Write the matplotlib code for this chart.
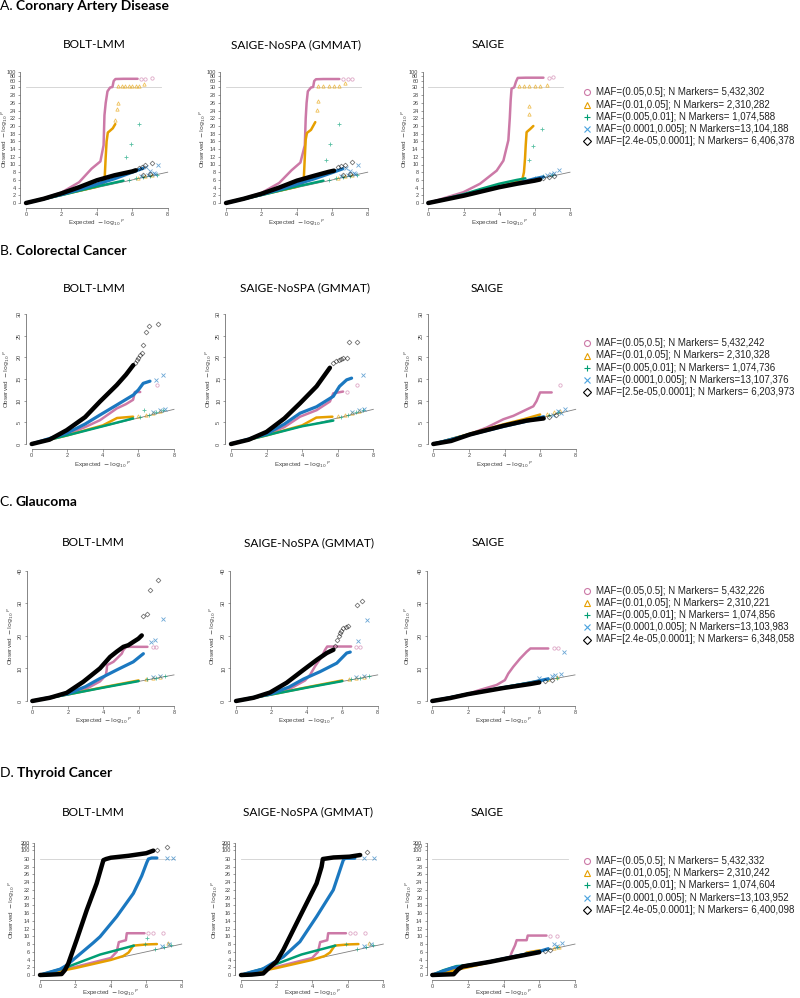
import numpy as np
import matplotlib
matplotlib.use("Agg")
import matplotlib.pyplot as plt
from matplotlib.lines import Line2D
from matplotlib.text import Annotation

# ---------------- data (expected -log10P, observed -log10P) ----------------
# each series: (curve_x, curve_y, tail_x, tail_y)
ROW_TITLES = [("A.", "Coronary Artery Disease"), ("B.", "Colorectal Cancer"),
              ("C.", "Glaucoma"), ("D.", "Thyroid Cancer")]
METHODS = ["BOLT-LMM", "SAIGE-NoSPA (GMMAT)", "SAIGE"]

CAD_BOLT = {
    "pink": ([0, 1.0, 2.0, 3.0, 3.7, 4.2, 4.38, 4.43, 4.5, 4.6, 4.75, 4.88, 4.95, 5.05, 5.5, 6.0, 6.3],
             [0, 1.2, 2.7, 5.4, 8.9, 10.8, 15, 22.8, 26, 29, 30, 32, 58, 67, 68, 68, 68],
             [6.5, 6.7, 7.1], [68, 68, 70]),
    "orange": ([0, 2, 4, 4.4, 4.45, 4.5, 4.55, 4.62, 4.7, 4.9, 5.04],
               [0, 2.1, 4.2, 5.2, 7.2, 12, 16, 18.3, 18.6, 19.4, 20.5],
               [5.04, 5.13, 5.17, 5.2, 5.4, 5.6, 5.8, 6.0, 6.2, 6.4, 6.64, 6.3, 6.7, 7.1],
               [21.5, 24.5, 26.1, 36, 36, 37, 37, 37, 37, 38, 45, 6.6, 7.0, 7.3]),
    "green": ([0, 2, 4, 5, 5.5], [0, 2.05, 4.3, 5.3, 5.8],
              [5.66, 5.9, 6.4, 5.8, 6.2, 6.6, 7.0, 7.4], [12.0, 15.3, 20.5, 6.0, 6.4, 6.8, 7.1, 7.4]),
    "blue": ([0, 2, 3, 4, 5, 6, 6.6], [0, 2.2, 3.5, 4.9, 6.3, 8.0, 9.0],
             [6.8, 7.0, 7.2, 7.45, 6.5, 6.9, 7.3], [9.3, 8.2, 7.8, 9.8, 7.0, 7.4, 7.6]),
    "black": ([0, 1, 2, 3, 4, 5, 6, 6.2], [0, 1.1, 2.5, 4.1, 5.9, 7.2, 8.2, 8.5],
              [6.4, 6.55, 6.7, 7.1, 6.6, 7.0], [9.2, 9.4, 9.8, 10.4, 7.3, 7.6]),
}
CAD_GMMAT = {
    "pink": ([0, 1, 2, 3, 3.7, 4.2, 4.45, 4.5, 4.55, 4.62, 4.8, 4.92, 4.98, 5.08, 5.5, 6.0, 6.4],
             [0, 1.2, 2.6, 5.2, 8.5, 10.5, 15, 22, 26, 29, 30, 32, 58, 66, 67, 67, 67],
             [6.6, 6.9, 7.1], [67, 67, 67]),
    "orange": ([0, 2, 4, 4.35, 4.4, 4.45, 4.5, 4.57, 4.8, 5.04],
               [0, 2.1, 4.2, 5.1, 7, 12, 16.5, 18.2, 19, 21],
               [5.13, 5.17, 5.2, 5.5, 5.8, 6.1, 6.4, 6.7, 6.3, 6.7, 7.1],
               [24.1, 26.5, 36, 37, 37, 37, 38, 48, 6.6, 7.0, 7.3]),
    "green": ([0, 2, 4, 5, 5.5], [0, 2.05, 4.3, 5.3, 5.8],
              [5.66, 5.89, 6.4, 5.8, 6.2, 6.6, 7.0, 7.4], [11.2, 15.3, 20.5, 6.0, 6.4, 6.8, 7.1, 7.4]),
    "blue": ([0, 2, 3, 4, 5, 6, 6.6], [0, 2.2, 3.5, 4.9, 6.3, 7.9, 8.9],
             [6.8, 7.0, 7.2, 7.45, 6.5, 6.9, 7.3], [9.2, 8.2, 7.8, 9.8, 7.0, 7.4, 7.6]),
    "black": ([0, 1, 2, 3, 4, 5, 5.8, 6.1], [0, 1.1, 2.4, 4.0, 5.8, 7.1, 8.1, 8.4],
              [6.3, 6.5, 6.7, 7.1, 6.6, 7.0], [9.3, 9.5, 9.8, 10.6, 7.3, 7.6]),
}
CAD_SAIGE = {
    "pink": ([0, 1.98, 2.92, 3.86, 4.24, 4.52, 4.6, 4.65, 4.7, 4.85, 4.95, 5.05, 5.5, 6.0, 6.5],
             [0, 2.8, 5.0, 8.4, 11, 16.3, 22, 26.7, 29.7, 30.5, 55, 72, 73, 73, 73],
             [6.8, 7.06], [73, 74]),
    "orange": ([0, 2, 4, 5.0, 5.3, 5.4, 5.46, 5.5, 5.55, 5.75, 5.93],
               [0, 2.1, 4.3, 5.5, 5.9, 8, 11.5, 15, 18.4, 19.2, 20],
               [5.7, 5.7, 5.1, 5.4, 5.7, 6.0, 6.3, 6.7], [23, 25.3, 36, 36, 36, 37, 37, 42]),
    "green": ([0, 2, 3, 4, 5, 5.48], [0, 2.3, 3.7, 5.0, 6.0, 6.4],
              [5.67, 5.9, 6.4, 6.0, 6.5, 7.0], [11.1, 14.7, 19.3, 6.6, 7.0, 7.4]),
    "blue": ([0, 2, 4, 5, 6, 6.5], [0, 2.0, 4.2, 5.1, 6.3, 6.8],
             [6.9, 7.1, 7.4, 6.7], [7.5, 7.9, 8.6, 7.2]),
    "black": ([0, 2, 3, 4, 5, 6, 6.3], [0, 1.9, 3.0, 4.1, 5.0, 5.8, 6.1],
              [6.5, 6.8, 7.1], [6.4, 6.7, 7.1]),
}
CRC_BOLT = {
    "pink": ([0, 2, 3, 3.84, 4.78, 5.3, 5.7, 5.8, 6.1], [0, 2.3, 3.9, 5.5, 8.2, 9.2, 10.2, 12, 12],
             [7.06], [13.6]),
    "orange": ([0, 2, 4, 4.8, 5.7], [0, 2, 4.3, 6.0, 6.3],
               [6.0, 6.4, 6.8, 7.2], [6.5, 6.8, 7.2, 7.6]),
    "green": ([0, 2, 4, 5.7], [0, 2, 4.1, 5.9],
              [6.3, 6.1, 6.6, 7.0, 7.4], [7.8, 6.3, 6.8, 7.3, 7.9]),
    "blue": ([0, 1.97, 3.0, 3.84, 4.78, 5.71, 6.0, 6.27, 6.65], [0, 2.5, 4.6, 6.7, 9.0, 11.3, 12.5, 14.0, 14.5],
             [7.0, 7.4, 6.8, 7.2, 7.5], [14.8, 15.9, 7.4, 7.8, 8.1]),
    "black": ([0, 1, 1.97, 3.0, 3.84, 4.78, 5.3, 5.71], [0, 1.0, 3.2, 6.2, 9.8, 13.6, 16, 18.2],
              [5.8, 5.9, 6.0, 6.1, 6.2, 6.27, 6.4, 6.6, 7.08], [18.6, 19.4, 19.8, 20.5, 21, 22.8, 25.8, 27.3, 27.8]),
}
CRC_GMMAT = {
    "pink": ([0, 2, 3, 3.88, 4.81, 5.56, 5.75, 6.3], [0, 2.2, 3.9, 6.3, 7.8, 9.8, 11.7, 12.1],
             [6.5, 7.06], [12.1, 13.6]),
    "orange": ([0, 2, 4, 4.8, 5.7], [0, 2, 4.3, 6.1, 6.3],
               [6.0, 6.4, 6.8, 7.2], [6.5, 6.8, 7.2, 7.6]),
    "green": ([0, 2, 4, 5.75], [0, 2, 4.1, 5.4],
              [6.2, 6.6, 7.0, 7.4], [6.3, 6.8, 7.3, 7.9]),
    "blue": ([0, 2, 3.0, 3.88, 4.81, 5.75, 6.1, 6.5, 6.78], [0, 2.3, 4.6, 7.1, 8.6, 11, 13.3, 14.8, 15.2],
             [7.43, 6.8, 7.2, 7.5], [16, 7.4, 7.8, 8.1]),
    "black": ([0, 1, 2.0, 3.0, 3.88, 4.81, 5.56], [0, 1.0, 2.8, 5.9, 9.4, 13.3, 17.6],
              [5.75, 5.9, 6.05, 6.2, 6.3, 6.5, 6.63, 7.1], [18.7, 19.1, 19.4, 19.7, 19.9, 19.9, 23.6, 23.6]),
}
CRC_SAIGE = {
    "pink": ([0, 2.06, 3.0, 3.93, 4.5, 5.06, 5.62, 5.8, 6.0, 6.65], [0, 2.3, 3.8, 5.7, 6.5, 7.6, 8.7, 9.9, 11.9, 11.9],
             [7.1], [13.7]),
    "orange": ([0, 2, 4, 5.06, 6.0], [0, 2.3, 4.6, 5.7, 6.8],
               [6.4, 6.8, 7.1], [7.0, 7.3, 7.6]),
    "green": ([0, 2, 4, 5.5, 6.0], [0, 2.2, 4.3, 5.6, 6.2], [6.5, 7.0], [6.8, 7.3]),
    "blue": ([0, 2, 4, 5.5, 6.2], [0, 2.1, 4.1, 5.5, 6.3],
             [6.74, 7.2, 7.0, 7.4], [6.8, 7.2, 7.7, 8.0]),
    "black": ([0, 1.0, 2.06, 3.93, 5.24, 6.2], [0, 0.7, 2.2, 4.2, 5.4, 5.9], [6.5, 6.9], [6.3, 6.6]),
}
GLA_BOLT = {
    "pink": ([0, 2, 3.0, 3.82, 4.15, 4.2, 4.22, 4.58, 5.05, 5.14, 5.3, 6.5],
             [0, 2.1, 3.6, 6.0, 7.9, 9.5, 11, 12, 14.5, 15.6, 16.6, 16.6],
             [6.8, 7.0], [16.6, 16.6]),
    "orange": ([0, 2, 4, 6.0], [0, 2, 4.2, 6.3], [6.4, 6.8, 7.2], [6.6, 7.0, 7.5]),
    "green": ([0, 2, 4, 6.0], [0, 2, 4.1, 6.1], [6.5, 7.0, 7.5], [6.7, 7.2, 7.8]),
    "blue": ([0, 2, 3.0, 3.82, 4.76, 5.7, 6.27], [0, 2.2, 4.4, 6.9, 9.5, 12, 14.5],
             [6.7, 6.9, 7.4, 6.8, 7.2], [18.1, 18.8, 25.2, 7.3, 7.8]),
    "black": ([0, 1, 1.94, 2.88, 3.82, 4.39, 4.76, 5.14, 5.42, 5.7, 5.99, 6.18],
              [0, 1.0, 2.5, 5.9, 10, 13.5, 15.1, 16.6, 17.1, 18.1, 19.1, 20.1],
              [6.27, 6.46, 6.65, 7.12], [26.2, 26.8, 34.1, 37.1]),
}
GLA_GMMAT = {
    "pink": ([0, 2, 3, 3.9, 4.18, 4.46, 4.84, 5.03, 5.15, 6.5], [0, 2.1, 3.6, 6.3, 8, 10.6, 13.6, 15.7, 16.7, 16.7],
             [6.8, 7.0], [16.7, 16.7]),
    "orange": ([0, 2, 4, 6.0], [0, 2, 4.2, 6.3], [6.4, 6.8, 7.2], [6.6, 7.0, 7.5]),
    "green": ([0, 2, 4, 6.0], [0, 2, 4.1, 6.1], [6.5, 7.0, 7.5], [6.7, 7.2, 7.8]),
    "blue": ([0, 2, 3, 3.8, 4.75, 5.69, 6.25, 6.45], [0, 2.2, 4.3, 6.7, 9, 11.6, 14.7, 15],
             [6.9, 7.38, 6.8, 7.2], [18.3, 24.9, 7.3, 7.8]),
    "black": ([0, 1, 1.92, 2.86, 3.8, 4.56, 5.12, 5.5], [0, 1.0, 2.6, 5.6, 9.5, 12.6, 14.7, 15.7],
              [5.6, 5.69, 5.8, 5.88, 5.95, 6.06, 6.2, 6.35, 6.82, 7.1],
              [17, 18.8, 19.8, 20.8, 21.5, 22.4, 22.8, 23.1, 29.5, 30.6]),
}
GLA_SAIGE = {
    "pink": ([0, 2, 2.67, 3.6, 4.07, 4.26, 4.54, 4.92, 5.29, 5.5, 6.5],
             [0, 2.2, 3.4, 4.9, 6.4, 8.4, 10.5, 13, 15.1, 16.1, 16.1],
             [6.8, 7.07], [16.1, 16.3]),
    "orange": ([0, 2, 4, 6.0], [0, 2, 4.1, 6.2], [6.5, 7.0], [6.8, 7.3]),
    "green": ([0, 2, 4, 6.0], [0, 2.2, 4.2, 6.1], [6.5, 7.0], [6.7, 7.2]),
    "blue": ([0, 2, 4, 5.5, 6.5], [0, 2.1, 4.1, 5.6, 6.8],
             [6.0, 6.7, 6.9, 7.2, 7.38], [7.0, 7.6, 8.0, 8.2, 15.0]),
    "black": ([0, 1, 2, 4, 5.48, 6.0], [0, 0.9, 2.1, 4.0, 5.2, 5.7], [6.3, 6.7], [6.1, 6.5]),
}
THY_BOLT = {
    "pink": ([0, 2, 4, 4.33, 4.45, 4.85, 4.9, 5.9], [0, 2.1, 4.4, 6.0, 8.5, 9.0, 10.8, 10.8],
             [6.1, 6.4, 6.97], [10.8, 10.8, 10.8]),
    "orange": ([0, 2, 4, 4.7, 5.0, 5.27, 6.0, 6.6], [0, 1.8, 3.9, 4.9, 5.8, 7.6, 7.9, 8.0],
               [7.2], [8.2]),
    "green": ([0, 1.5, 3.4, 5.3], [0, 2.0, 5.3, 7.6],
              [5.9, 6.03, 6.5, 7.0, 7.4], [8.0, 9.5, 6.8, 7.3, 7.7]),
    "blue": ([0, 0.6, 1.13, 1.5, 2.07, 3.0, 3.39, 4.33, 5.27, 5.74, 6.03, 6.12, 6.3, 6.6],
             [0, 0.8, 1.5, 2.5, 4.7, 8.3, 9.9, 15.1, 21.1, 25.6, 29.1, 30, 38, 38],
             [7.16, 7.53, 6.9, 7.3], [38, 38, 7.5, 7.9]),
    "black": ([0, 0.6, 1.22, 1.41, 1.6, 2.07, 2.64, 3.2, 3.58, 3.73, 4.0, 5.0, 6.0, 6.4],
              [0, 0.1, 0.25, 1.3, 3.0, 9.1, 16.8, 23.7, 29.7, 30, 40, 55, 75, 95],
              [6.6, 7.16], [100, 135]),
}
THY_GMMAT = {
    "pink": ([0, 2, 4, 4.33, 4.45, 4.85, 4.9, 5.9], [0, 2.1, 4.4, 6.0, 8.5, 9.0, 10.8, 10.8],
             [6.1, 6.4, 6.97], [10.8, 10.8, 10.8]),
    "orange": ([0, 2, 4, 4.7, 5.0, 5.27, 6.0, 6.6], [0, 1.8, 3.9, 4.9, 5.8, 7.6, 7.9, 8.0],
               [7.2], [8.2]),
    "green": ([0, 1.5, 3.4, 5.3], [0, 2.0, 5.3, 7.6],
              [5.9, 6.5, 7.0, 7.4], [8.0, 6.8, 7.3, 7.7]),
    "blue": ([0, 0.6, 1.2, 1.5, 2.38, 3.31, 4.25, 5.19, 5.75, 5.85, 6.4],
             [0, 0.8, 1.5, 2.3, 4.7, 8.6, 15.1, 22, 29.7, 35, 36],
             [6.9, 7.45, 6.9, 7.3], [36, 36, 7.5, 7.9]),
    "black": ([0, 0.6, 1.25, 1.5, 2.0, 2.38, 3.31, 4.25, 4.53, 4.6, 5.2, 6.1, 6.7],
              [0, 0.1, 0.4, 1.5, 3.5, 6.5, 15.1, 23.7, 28, 30, 42, 48, 61],
              [7.06], [85]),
}
THY_SAIGE = {
    "pink": ([0, 2, 4, 4.36, 4.45, 4.64, 4.73, 5.29, 5.35, 6.4], [0, 2.1, 4.2, 4.6, 5.8, 7.7, 9, 9, 10.2, 10.2],
             [6.6, 6.97], [10.2, 10.2]),
    "orange": ([0, 2, 4, 5.1, 5.29, 6.04], [0, 2, 4.1, 5.0, 5.8, 6.4], [6.8, 7.1], [7.0, 7.3]),
    "green": ([0, 0.6, 1.36, 1.7, 3, 5, 6], [0, 1.2, 2.3, 2.4, 3.3, 5.2, 6.1], [6.5, 7.0], [6.8, 7.2]),
    "blue": ([0, 0.6, 1.18, 1.6, 3, 4.5, 6.0, 6.5], [0, 1.0, 1.9, 2.2, 3.2, 4.7, 6.1, 6.8],
             [6.8, 7.25, 7.0], [7.9, 8.3, 7.4]),
    "black": ([0, 0.6, 1.2, 1.46, 1.7, 3.23, 4.54, 6.0], [0, 0.1, 0.2, 1.5, 2.2, 3.4, 4.6, 5.9],
              [6.3, 6.6], [6.2, 6.5]),
}
PANELS = [[CAD_BOLT, CAD_GMMAT, CAD_SAIGE], [CRC_BOLT, CRC_GMMAT, CRC_SAIGE],
          [GLA_BOLT, GLA_GMMAT, GLA_SAIGE], [THY_BOLT, THY_GMMAT, THY_SAIGE]]

LEGEND_A = ["MAF=(0.05,0.5]; N Markers= 5,432,302", "MAF=(0.01,0.05]; N Markers= 2,310,282",
            "MAF=(0.005,0.01]; N Markers= 1,074,588", "MAF=(0.0001,0.005]; N Markers=13,104,188",
            "MAF=[2.4e-05,0.0001]; N Markers= 6,406,378"]
LEGEND_B = ["MAF=(0.05,0.5]; N Markers= 5,432,242", "MAF=(0.01,0.05]; N Markers= 2,310,328",
            "MAF=(0.005,0.01]; N Markers= 1,074,736", "MAF=(0.0001,0.005]; N Markers=13,107,376",
            "MAF=[2.5e-05,0.0001]; N Markers= 6,203,973"]
LEGEND_C = ["MAF=(0.05,0.5]; N Markers= 5,432,226", "MAF=(0.01,0.05]; N Markers= 2,310,221",
            "MAF=(0.005,0.01]; N Markers= 1,074,856", "MAF=(0.0001,0.005]; N Markers=13,103,983",
            "MAF=[2.4e-05,0.0001]; N Markers= 6,348,058"]
LEGEND_D = ["MAF=(0.05,0.5]; N Markers= 5,432,332", "MAF=(0.01,0.05]; N Markers= 2,310,242",
            "MAF=(0.005,0.01]; N Markers= 1,074,604", "MAF=(0.0001,0.005]; N Markers=13,103,952",
            "MAF=[2.4e-05,0.0001]; N Markers= 6,400,098"]
LEGENDS = [LEGEND_A, LEGEND_B, LEGEND_C, LEGEND_D]

YTICKS_A = [0, 2, 4, 6, 8, 10, 12, 14, 16, 18, 20, 22, 24, 26, 28, 30, 60, 80, 100]
YTICKS_B = [0, 5, 10, 15, 20, 25, 30]
YTICKS_C = [0, 10, 20, 30, 40]
YTICKS_D = [0, 2, 4, 6, 8, 10, 12, 14, 16, 18, 20, 22, 24, 26, 28, 30, 100, 150, 200]
XTICKS = [0, 2, 4, 6, 8]

# ---------------- styling / layout ----------------
COLORS = {"pink": "#CC79A7", "orange": "#E69F00", "green": "#009E73", "blue": "#1B78C0", "black": "#000000"}
MARKERS = {"pink": "o", "orange": "^", "green": "+", "blue": "x", "black": "D"}
ORDER = ["pink", "orange", "green", "blue", "black"]

# broken-axis compression above 30 (rows A and D)
BREAK_A = ([-1000, 0, 30, 60, 80, 100, 1000], [-1000, 0, 30, 31.8, 32.95, 33.9, 33.9 + 900 * 0.048])
BREAK_D = ([-1000, 0, 30, 100, 150, 200, 1000], [-1000, 0, 30, 32.33, 33.36, 34.21, 34.21 + 800 * 0.017])

W, H = 800, 998
X0PX = [[26, 226, 428.3], [31.7, 231, 433.3], [32.3, 236, 432.3], [40, 241, 432.3]]
X8PX = [[167.7, 367.7, 570], [174, 373.3, 575.7], [174, 377.7, 575], [181.7, 383.3, 575]]
Y0PX = [203, 444, 701, 975]
YREF = [(30, 87.5), (30, 314), (40, 570.5), (30, 859)]
YLIM_S = [(-1.3, 34.4), (-1.2, 31.2), (-1.6, 41.5), (-1.2, 34.8)]
YLAB_X = [[5, 203, 405], [7, 209, 408], [11, 213, 408], [12, 215, 409]]
XLAB_Y = [222.5, 465, 720.5, 993]
TITLE_BASE = [10, 255, 506, 777]
SUB_Y = [45, 288, 543, 812]
SUB_X = [[94, 296, 488], [94, 304.5, 487], [93, 308.5, 488], [93, 307.7, 487]]
LEG_Y0 = [92.3, 343.3, 590.7, 861]

TITLE_FONT = ["Lato", "DejaVu Sans"]
SANS = ["Liberation Sans", "DejaVu Sans"]

fig = plt.figure(figsize=(W / 100, H / 100), dpi=100)
fig.patch.set_facecolor("white")


def fy(py):
    return 1 - py / H


for r in range(4):
    # row title: regular letter + bold disease name
    t1 = fig.text(0.0, fy(TITLE_BASE[r]), ROW_TITLES[r][0] + " ", fontsize=10,
                  family=TITLE_FONT, va="baseline", ha="left")
    a = Annotation(ROW_TITLES[r][1], xy=(1, 0), xycoords=t1, fontsize=10, family=TITLE_FONT,
                   fontweight="bold", va="bottom", ha="left")
    fig.add_artist(a)

    for c in range(3):
        x0, x8 = X0PX[r][c], X8PX[r][c]
        sx = (x8 - x0) / 8
        left, right = x0 - 0.32 * sx, x8 + 0.32 * sx
        refv, refpx = YREF[r]
        sy = (Y0PX[r] - refpx) / refv
        ylo, yhi = YLIM_S[r]
        bot_px = Y0PX[r] - ylo * sy
        top_px = Y0PX[r] - yhi * sy
        ax = fig.add_axes([left / W, 1 - bot_px / H, (right - left) / W, (bot_px - top_px) / H])

        if r in (0, 3):
            vals, pos = BREAK_A if r == 0 else BREAK_D
            vals = np.array(vals, float)
            pos = np.array(pos, float)
            fwd = (lambda v, pos=pos, vals=vals: np.interp(v, vals, pos))
            inv = (lambda p, pos=pos, vals=vals: np.interp(p, pos, vals))
            ax.set_yscale("function", functions=(fwd, inv))
            ax.set_ylim(float(inv(ylo)), float(inv(yhi)))
            ax.plot([0, 7.6], [30, 30], color="#d0d0d0", lw=0.6, zorder=1)
        else:
            ax.set_ylim(ylo, yhi)
        ax.set_xlim(-0.32, 8.32)

        ax.plot([0, 8], [0, 8], color="#808080", lw=0.6, zorder=2)

        data = PANELS[r][c]
        for k, key in enumerate(ORDER):
            cx, cy, tx, ty = data[key]
            col = COLORS[key]
            lw = 3.2 if key == "black" else (2.3 if key == "blue" else 1.8)
            ax.plot(cx, cy, color=col, lw=lw, solid_capstyle="round", solid_joinstyle="round",
                    zorder=3 + k)
            ax.plot(tx, ty, ls="none", marker=MARKERS[key], ms=2.4, mew=0.6, mfc="none",
                    mec=col, alpha=0.65 if key != "black" else 0.55, zorder=3 + k)

        for s in ["top", "right"]:
            ax.spines[s].set_visible(False)
        for s in ["left", "bottom"]:
            ax.spines[s].set_linewidth(0.5)
            ax.spines[s].set_color("#555555")
        ax.spines["bottom"].set_bounds(0, 8)
        yt = [YTICKS_A, YTICKS_B, YTICKS_C, YTICKS_D][r]
        ax.spines["left"].set_bounds(yt[0], yt[-1])
        ax.set_xticks(XTICKS)
        ax.set_xticklabels([str(v) for v in XTICKS], family=SANS)
        ax.set_yticks(yt)
        ax.set_yticklabels([str(v) for v in yt], family=SANS)
        ax.tick_params(direction="out", length=1.8, width=0.4, colors="#555555",
                       labelsize=4.0, pad=1.2, labelcolor="#444444")
        if r in (1, 2):
            for lab in ax.get_yticklabels():
                lab.set_rotation(90)
                lab.set_va("center")
        ax.set_xlabel(r"Expected  $-\,\log_{10}{}^{P}$", fontsize=4.5,
                      color="#444444", family=SANS)
        ax.set_ylabel(r"Observed  $-\,\log_{10}{}^{P}$", fontsize=4.5,
                      color="#444444", family=SANS)
        ax.yaxis.set_label_coords((YLAB_X[r][c] - left) / (right - left), 0.5)
        ax.xaxis.set_label_coords(0.5, (bot_px - XLAB_Y[r]) / (bot_px - top_px))
        ax.yaxis.label.set_va("center")
        ax.xaxis.label.set_va("center")
        ax.patch.set_alpha(0)

        fig.text(SUB_X[r][c] / W, fy(SUB_Y[r]), METHODS[c], fontsize=8.6, family=TITLE_FONT,
                 ha="center", va="center")

    # legend
    for i, key in enumerate(ORDER):
        ypx = LEG_Y0[r] + i * 12.2
        fig.add_artist(Line2D([587 / W], [fy(ypx)], transform=fig.transFigure, ls="none",
                              marker=MARKERS[key], ms=4.3, mew=0.8, mfc="none",
                              mec=COLORS[key] if key != "blue" else "#4AA3DF"))
        fig.text(596 / W, fy(ypx), LEGENDS[r][i], fontsize=7, family=SANS, va="center",
                 ha="left", color="#222222")

fig.savefig("out.png", dpi=100, facecolor="white")
